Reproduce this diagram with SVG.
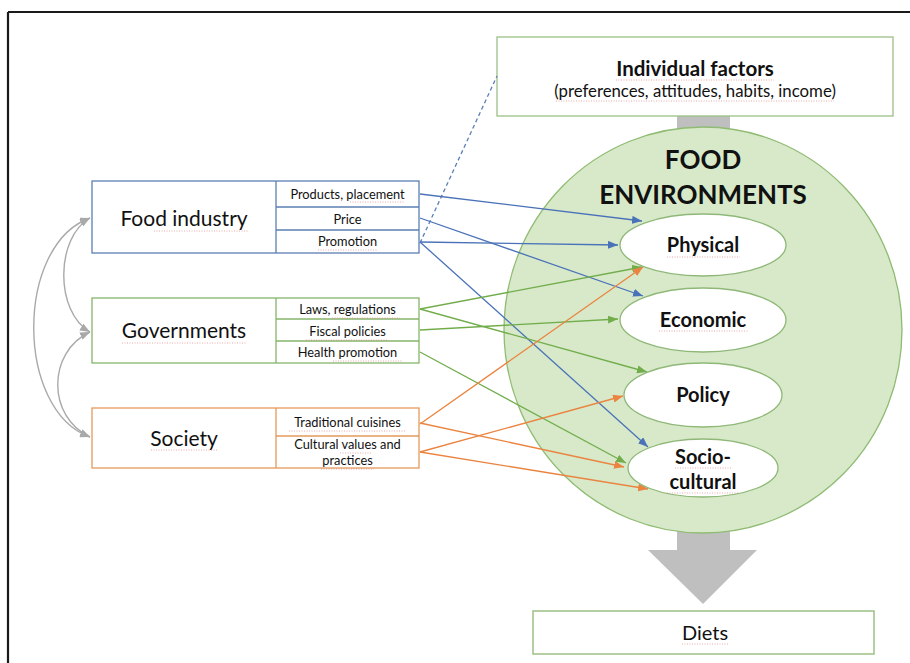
<svg xmlns="http://www.w3.org/2000/svg" width="910" height="663" viewBox="0 0 910 663">
  <style>
    text { font-family: Lato, "Open Sans", "Liberation Sans", sans-serif; fill: #111; }
    .box { fill: #fff; stroke-width: 1.3; }
    .blue { stroke: #5b7fb3; }
    .green { stroke: #86b56a; }
    .orange { stroke: #e59a5a; }
    .main { font-size: 21px; text-anchor: middle; }
    .sub { font-size: 12.8px; text-anchor: middle; }
    .env { font-size: 20px; font-weight: bold; text-anchor: middle; }
    .title { font-size: 26px; font-weight: bold; text-anchor: middle; }
    .ln { fill: none; stroke-width: 1.3; }
    .lb { stroke: #4a72b8; marker-end: url(#ab); }
    .lg { stroke: #72ad4c; marker-end: url(#ag); }
    .lo { stroke: #ea8440; marker-end: url(#ao); }
    .loop { fill: none; stroke: #a9a9a9; stroke-width: 1.4; marker-start: url(#ay); marker-end: url(#ay); }
    .inner { fill: #fff; stroke: #8fb878; stroke-width: 1.3; }
    .sq { stroke: #e06666; stroke-width: 1; stroke-dasharray: 1 1.5; opacity: 0.55; }
  </style>
  <defs>
    <marker id="ab" viewBox="0 0 10 8" refX="10" refY="4" markerWidth="10" markerHeight="8" markerUnits="userSpaceOnUse" orient="auto"><path d="M0,0 L10,4 L0,8 z" fill="#4a72b8"/></marker>
    <marker id="ag" viewBox="0 0 10 8" refX="10" refY="4" markerWidth="10" markerHeight="8" markerUnits="userSpaceOnUse" orient="auto"><path d="M0,0 L10,4 L0,8 z" fill="#72ad4c"/></marker>
    <marker id="ao" viewBox="0 0 10 8" refX="10" refY="4" markerWidth="10" markerHeight="8" markerUnits="userSpaceOnUse" orient="auto"><path d="M0,0 L10,4 L0,8 z" fill="#ea8440"/></marker>
    <marker id="ay" viewBox="0 0 10 8" refX="10" refY="4" markerWidth="10" markerHeight="8" markerUnits="userSpaceOnUse" orient="auto-start-reverse"><path d="M0,0 L10,4 L0,8 z" fill="#a9a9a9"/></marker>
  </defs>

  <rect width="910" height="663" fill="#fff"/>

  <!-- page frame (top and left rules) -->
  <g id="frame" stroke="#1a1a1a" stroke-width="2.2" fill="none">
    <line x1="8" y1="12" x2="910" y2="12"/>
    <line x1="8" y1="12" x2="8" y2="663"/>
  </g>

  <!-- wide grey arrow: individual factors -> environments -> diets -->
  <g id="flow-arrow" fill="#bfbfbf">
    <rect x="677" y="116" width="53" height="26"/>
    <rect x="677" y="515" width="53" height="36"/>
    <polygon points="648,550 757,550 703,604"/>
  </g>

  <!-- food environments -->
  <g id="food-environments">
    <ellipse cx="703" cy="330" rx="199" ry="203" fill="#d7e9c9" stroke="#8fbb72" stroke-width="1.3"/>
    <text class="title" x="703" y="169">FOOD</text>
    <text class="title" x="703" y="204">ENVIRONMENTS</text>
  </g>

  <g id="individual-factors">
    <rect x="497" y="37" width="396" height="79" fill="#fff" stroke="#9cc085" stroke-width="1.3"/>
    <text x="695" y="76" font-size="20.5" font-weight="bold" text-anchor="middle">Individual factors</text>
    <text x="695" y="97" font-size="16.8" text-anchor="middle">(preferences, attitudes, habits, income)</text>
  </g>

  <g id="diets">
    <rect x="533" y="611" width="341" height="43" fill="#fff" stroke="#9cc085" stroke-width="1.5"/>
    <text x="705" y="640" font-size="20" text-anchor="middle">Diets</text>
  </g>

  <!-- driver boxes -->
  <g id="food-industry">
    <rect class="box blue" x="92" y="181" width="327" height="72"/>
    <line class="blue" x1="276" y1="181" x2="276" y2="253" stroke-width="1.3"/>
    <line class="blue" x1="276" y1="207" x2="419" y2="207" stroke-width="1.3"/>
    <line class="blue" x1="276" y1="230" x2="419" y2="230" stroke-width="1.3"/>
    <text class="main" x="184" y="226">Food industry</text>
    <text class="sub" x="347.5" y="199">Products, placement</text>
    <text class="sub" x="347.5" y="224">Price</text>
    <text class="sub" x="347.5" y="246">Promotion</text>
  </g>

  <g id="governments">
    <rect class="box green" x="92" y="298" width="327" height="65"/>
    <line class="green" x1="276" y1="298" x2="276" y2="363" stroke-width="1.3"/>
    <line class="green" x1="276" y1="319" x2="419" y2="319" stroke-width="1.3"/>
    <line class="green" x1="276" y1="341" x2="419" y2="341" stroke-width="1.3"/>
    <text class="main" x="184" y="338">Governments</text>
    <text class="sub" x="347.5" y="314">Laws, regulations</text>
    <text class="sub" x="347.5" y="336">Fiscal policies</text>
    <text class="sub" x="347.5" y="357">Health promotion</text>
  </g>

  <g id="society">
    <rect class="box orange" x="92" y="408" width="327" height="60"/>
    <line class="orange" x1="276" y1="408" x2="276" y2="468" stroke-width="1.3"/>
    <line class="orange" x1="276" y1="436" x2="419" y2="436" stroke-width="1.3"/>
    <text class="main" x="184" y="446">Society</text>
    <text class="sub" x="347.5" y="427">Traditional cuisines</text>
    <text class="sub" x="347.5" y="449">Cultural values and</text>
    <text class="sub" x="347.5" y="465">practices</text>
  </g>

  <!-- connectors -->
  <g id="connectors">
    <line class="ln" x1="420" y1="243" x2="497" y2="76" stroke="#5b7fb3" stroke-width="1.2" stroke-dasharray="4 3"/>
    <path class="ln lb" d="M420,194 L642,221"/>
    <path class="ln lb" d="M420,218 L643,296"/>
    <path class="ln lb" d="M420,242 L618,245"/>
    <path class="ln lb" d="M420,242 L648,447"/>
    <path class="ln lg" d="M420,309 L642,267"/>
    <path class="ln lg" d="M420,309 L647,372"/>
    <path class="ln lg" d="M420,330 L618,319"/>
    <path class="ln lg" d="M420,352 L626,463"/>
    <path class="ln lo" d="M420,424 L643,267"/>
    <path class="ln lo" d="M420,423 L624,467"/>
    <path class="ln lo" d="M420,452 L623,396"/>
    <path class="ln lo" d="M420,452 L648,489"/>
    <path class="loop" d="M90,218 C15,245 15,410 90,437"/>
    <path class="loop" d="M90,218 C55,238 55,312 90,332"/>
    <path class="loop" d="M90,332 C47,352 47,417 90,437"/>
  </g>

  <!-- inner environment types -->
  <g id="physical">
    <ellipse class="inner" cx="703" cy="245" rx="83" ry="31"/>
    <text class="env" x="703" y="252">Physical</text>
  </g>
  <g id="economic">
    <ellipse class="inner" cx="703" cy="320" rx="83" ry="32"/>
    <text class="env" x="703" y="327">Economic</text>
  </g>
  <g id="policy">
    <ellipse class="inner" cx="703" cy="395" rx="79" ry="32"/>
    <text class="env" x="703" y="402">Policy</text>
  </g>
  <g id="socio-cultural">
    <ellipse class="inner" cx="703" cy="468" rx="75" ry="29"/>
    <text class="env" x="703" y="464">Socio-</text>
    <text class="env" x="703" y="489">cultural</text>
  </g>

  <!-- proofing underlines -->
  <g id="proofing">
    <line class="sq" x1="616" y1="80" x2="774" y2="80"/>
    <line class="sq" x1="556" y1="101" x2="834" y2="101"/>
    <line class="sq" x1="154" y1="231" x2="248" y2="231"/>
    <line class="sq" x1="350" y1="202" x2="405" y2="202"/>
    <line class="sq" x1="318" y1="250" x2="377" y2="250"/>
    <line class="sq" x1="122" y1="343" x2="247" y2="343"/>
    <line class="sq" x1="332" y1="318" x2="400" y2="318"/>
    <line class="sq" x1="306" y1="340" x2="388" y2="340"/>
    <line class="sq" x1="333" y1="361" x2="403" y2="361"/>
    <line class="sq" x1="151" y1="450" x2="217" y2="450"/>
    <line class="sq" x1="289" y1="431" x2="405" y2="431"/>
    <line class="sq" x1="340" y1="453" x2="371" y2="453"/>
    <line class="sq" x1="321" y1="469" x2="374" y2="469"/>
    <line class="sq" x1="667" y1="257" x2="740" y2="257"/>
    <line class="sq" x1="659" y1="331" x2="748" y2="331"/>
    <line class="sq" x1="675" y1="468" x2="731" y2="468"/>
    <line class="sq" x1="667" y1="493" x2="739" y2="493"/>
    <line class="sq" x1="682" y1="644" x2="728" y2="644"/>
  </g>
</svg>
